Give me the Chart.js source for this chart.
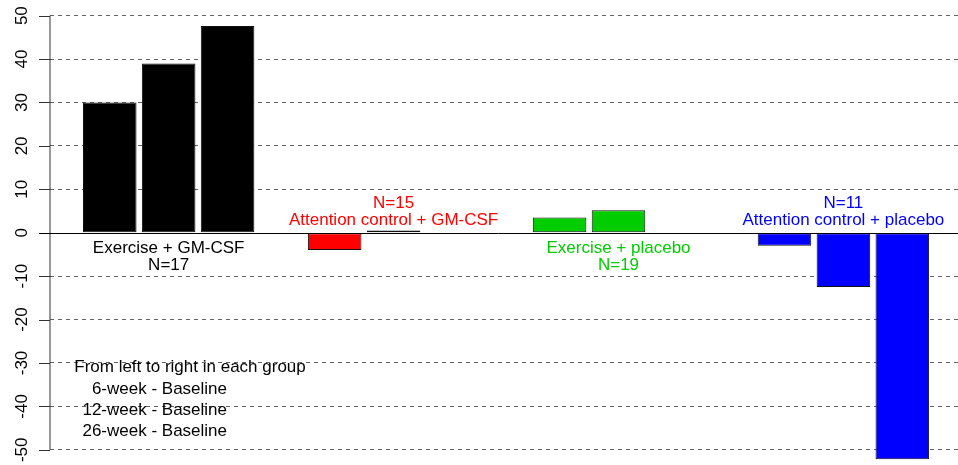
<!DOCTYPE html>
<html lang="en">
  <head>
    <meta charset="UTF-8" />
    <title>Change from baseline by group</title>
    <style>
      html, body { margin: 0; padding: 0; background: #fff; }
      .chart-container { width: 958px; height: 465px; position: relative; }
    </style>
  </head>
  <body>
    <div class="chart-container">
      <canvas id="barChart"></canvas>
    </div>

    <script src="https://cdn.jsdelivr.net/npm/chart.js"></script>
    <script>
      // groups, in plotting order
      const groupNames = ['Exercise + GM-CSF', 'Attention control + GM-CSF', 'Exercise + placebo', 'Attention control + placebo'];
      const groupN = ['N=17', 'N=15', 'N=19', 'N=11'];
      const groupColors = ['#000000', '#ff0000', '#00cd00', '#0000ff'];
      const timepoints = ['6-week - Baseline', '12-week - Baseline', '26-week - Baseline'];

      // change from baseline, one value per timepoint
      const exerciseGmcsf = [30.0, 39.0, 47.6];
      const attentionGmcsf = [-4.0, 0.5, 0.1];
      const exercisePlacebo = [3.5, 5.2, 0.1];
      const attentionPlacebo = [-3.0, -12.5, -52.2];
      const groupValues = [exerciseGmcsf, attentionGmcsf, exercisePlacebo, attentionPlacebo];

      const yTickValues = [-50, -40, -30, -20, -10, 0, 10, 20, 30, 40, 50];

      // R barplot style positions: bar width 1, space 0.1 within group, 1 between groups
      const barX = (g, i) => 1.5 + g * 4.2 + i * 1.1;
      const groupCenter = g => 1 + g * 4.2 + 1.6;

      const FONT = '17px "Liberation Sans", Arial, Helvetica, sans-serif';

      const annotate = {
        id: 'annotate',
        afterDraw(chart) {
          const ctx = chart.ctx;
          const xs = chart.scales.x;
          const ys = chart.scales.y;
          const area = chart.chartArea;
          const y0 = ys.getPixelForValue(0);
          const top = ys.getPixelForValue(yTickValues[yTickValues.length - 1]);
          const bottom = ys.getPixelForValue(yTickValues[0]);
          ctx.save();

          // axis line and tick marks
          ctx.strokeStyle = '#333';
          ctx.lineWidth = 1;
          ctx.beginPath();
          ctx.moveTo(area.left, top);
          ctx.lineTo(area.left, bottom);
          yTickValues.forEach(v => {
            const y = Math.round(ys.getPixelForValue(v)) + 0.5;
            ctx.moveTo(area.left - 11, y);
            ctx.lineTo(area.left, y);
          });
          ctx.stroke();

          // zero line
          ctx.strokeStyle = '#000';
          ctx.beginPath();
          ctx.moveTo(area.left - 11, Math.round(y0) + 0.5);
          ctx.lineTo(area.right, Math.round(y0) + 0.5);
          ctx.stroke();

          // rotated tick labels
          ctx.font = FONT;
          ctx.fillStyle = '#000';
          ctx.textAlign = 'center';
          ctx.textBaseline = 'alphabetic';
          yTickValues.forEach(v => {
            ctx.save();
            ctx.translate(27, ys.getPixelForValue(v));
            ctx.rotate(-Math.PI / 2);
            ctx.fillText(String(v), 0, 0);
            ctx.restore();
          });

          // group labels
          groupNames.forEach((name, g) => {
            const cx = xs.getPixelForValue(groupCenter(g));
            ctx.fillStyle = groupColors[g];
            if (g % 2 === 0) {
              ctx.fillText(name, cx, y0 + 20.5);
              ctx.fillText(groupN[g], cx, y0 + 37.5);
            } else {
              ctx.fillText(groupN[g], cx, y0 - 24.5);
              ctx.fillText(name, cx, y0 - 7.5);
            }
          });

          // order note
          ctx.fillStyle = '#000';
          ctx.fillText('From left to right in each group', 190, 372);
          ctx.textAlign = 'right';
          timepoints.forEach((t, i) => {
            ctx.fillText(t, 227, 394 + i * 21);
          });

          ctx.restore();
        }
      };

      const datasets = groupValues.map((vals, g) => ({
        label: groupNames[g],
        data: vals.map((v, i) => ({ x: barX(g, i), y: v })),
        backgroundColor: groupColors[g],
        borderColor: '#111',
        borderWidth: 1,
        borderSkipped: false,
        barPercentage: 1 / 1.1,
        categoryPercentage: 1
      }));

      new Chart(document.getElementById('barChart').getContext('2d'), {
        type: 'bar',
        data: { datasets },
        options: {
          responsive: true,
          maintainAspectRatio: false,
          animation: false,
          grouped: false,
          layout: { padding: 0 },
          plugins: {
            legend: { display: false },
            tooltip: { enabled: false }
          },
          scales: {
            x: {
              type: 'linear',
              min: 0.384,
              max: 17.34,
              offset: false,
              display: false
            },
            y: {
              min: -53.5,
              max: 53.6,
              z: 1,
              afterFit: s => { s.width = 50; },
              ticks: { display: false, stepSize: 10, includeBounds: false },
              grid: {
                drawTicks: false,
                lineWidth: 1,
                color: c => (c.tick && c.tick.value === 0 ? 'rgba(0,0,0,0)' : 'rgba(60,60,60,0.8)')
              },
              border: { display: false, dash: [4, 4] }
            }
          }
        },
        plugins: [annotate]
      });
    </script>
  </body>
</html>
